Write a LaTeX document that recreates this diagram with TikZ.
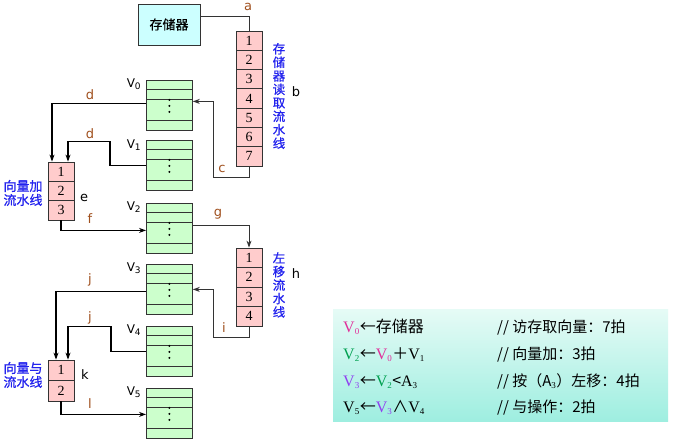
\documentclass[tikz,border=0pt]{standalone}
\usepackage{fontspec}
\setmainfont{Liberation Serif}
\newfontfamily\cjk{Noto Sans CJK SC}
\newfontfamily\cjkb[FakeBold=0.8]{Noto Sans CJK SC}
\newfontfamily\lbl{DejaVu Sans}
\usetikzlibrary{arrows.meta,calc}
\definecolor{memfill}{HTML}{CCFFFF}
\definecolor{pipefill}{HTML}{FFCCCC}
\definecolor{vfill}{HTML}{CCFFCC}
\definecolor{edge}{HTML}{333333}
\definecolor{brn}{HTML}{A0501E}
\definecolor{blu}{HTML}{2222EE}
\definecolor{vmag}{HTML}{E0309A}
\definecolor{vgrn}{HTML}{00A050}
\definecolor{vpur}{HTML}{9040F0}
\definecolor{boxtop}{HTML}{E6FBF6}
\definecolor{boxbot}{HTML}{9EEEE0}
\tikzset{
  cell/.style={draw=edge, fill=pipefill, line width=0.8pt, minimum width=26pt, inner sep=0pt, font=\fontsize{14}{14}\selectfont},
  vreg/.style={draw=edge, fill=vfill, line width=0.8pt, minimum width=46pt, minimum height=50pt, inner sep=0pt, anchor=north west},
  memstyle/.style={draw=edge, fill=memfill, line width=0.8pt, minimum width=62pt, minimum height=41pt, inner sep=0pt, font=\cjkb\fontsize{13}{13}\selectfont},
  conn/.style={draw=edge, line width=0.9pt},
  bconn/.style={draw=black, line width=1.1pt},
  arr/.style={-{Stealth[length=7pt,width=5pt]}},
  letter/.style={font=\lbl\fontsize{13}{13}\selectfont, text=brn, inner sep=0pt},
  bletter/.style={font=\lbl\fontsize{13}{13}\selectfont, text=black, inner sep=0pt},
  vlabel/.style={font=\lbl\fontsize{12}{12}\selectfont, inner sep=0pt},
  cnlabel/.style={font=\cjkb\fontsize{13}{14}\selectfont, text=blu, align=center, inner sep=0pt},
  vtext/.style={font=\cjkb\fontsize{12.5}{13.5}\selectfont, text=blu, align=center, text width=13pt, inner sep=0pt},
  row/.style={anchor=base west, inner sep=0pt, font=\fontsize{16}{16}\selectfont},
}
\newcommand{\vsub}[1]{\textsubscript{\fontsize{9}{9}\selectfont #1}}
\newcommand{\regdetail}[1]{%
  \draw[edge, line width=0.8pt] ([yshift=-9.5pt]#1.north west) -- ([yshift=-9.5pt]#1.north east);
  \draw[edge, line width=1pt] ([yshift=-19pt]#1.north west) -- ([yshift=-19pt]#1.north east);
  \draw[edge, line width=1pt] ([yshift=-40pt]#1.north west) -- ([yshift=-40pt]#1.north east);
  \fill[black] ([yshift=-0.5pt]#1.center) circle (1.1pt);
  \fill[black] ([yshift=-6.5pt]#1.center) circle (1.1pt);
  \fill[black] ([yshift=5.5pt]#1.center) circle (1.1pt);
}
\begin{document}
\begin{tikzpicture}[x=1pt,y=-1pt]
\useasboundingbox (0,0) rectangle (674,442);
\fill[white] (0,0) rectangle (674,442);

% memory
\node[memstyle] (mem) at (169,24.5) {存储器};

% pipeline b
\foreach \i in {1,...,7}
  \node[cell, minimum height=19.29pt] (b\i) at (249,{31+19.29*(\i-0.5)}) {\i};
\node[vtext] (btxt) at (279,96) {存\\储\\器\\读\\取\\流\\水\\线};
\node[bletter] (lb) at (296,92) {b};

% V registers
\node[vreg] (v0) at (146,80) {};
\node[vreg] (v1) at (146,140) {};
\node[vreg] (v2) at (146,203) {};
\node[vreg] (v3) at (146,264) {};
\node[vreg] (v4) at (146,326) {};
\node[vreg] (v5) at (146,388) {};
\foreach \r in {v0,v1,v2,v3,v4,v5} {\regdetail{\r}}
\node[vlabel] (lv0) at (134,84) {V\vsub{0}};
\node[vlabel] (lv1) at (134,145) {V\vsub{1}};
\node[vlabel] (lv2) at (134,207) {V\vsub{2}};
\node[vlabel] (lv3) at (134,268) {V\vsub{3}};
\node[vlabel] (lv4) at (134,330) {V\vsub{4}};
\node[vlabel] (lv5) at (134,392) {V\vsub{5}};

% pipeline e
\foreach \i in {1,...,3}
  \node[cell, minimum height=19.3pt] (e\i) at (61,{162+19.3*(\i-0.5)}) {\i};
\node[cnlabel] (etxt) at (23,193) {向量加\\流水线};
\node[bletter] (le) at (84,198) {e};

% pipeline h
\foreach \i in {1,...,4}
  \node[cell, minimum height=19.5pt] (h\i) at (249,{248+19.5*(\i-0.5)}) {\i};
\node[vtext] (htxt) at (279,285) {左\\移\\流\\水\\线};
\node[bletter] (lh) at (296,274) {h};

% pipeline k
\foreach \i in {1,...,2}
  \node[cell, minimum height=20.5pt] (k\i) at (61,{360+20.5*(\i-0.5)}) {\i};
\node[cnlabel] (ktxt) at (23,375) {向量与\\流水线};
\node[bletter] (lk) at (85,375) {k};

% connectors
\draw[conn] ([yshift=8.5pt]mem.east) -| (b1.north);
\node[letter] (la) at (248,7) {a};

\draw[conn, arr] (b7.south) -- ++(0,11) -- ++(-36,0) |- ([yshift=4pt]v0.east);
\node[letter] (lc) at (222,169) {c};

\draw[bconn, arr] ([yshift=2pt]v0.west) -| ([xshift=-9pt]e1.north);
\node[letter] (ld1) at (90,95) {d};
\draw[bconn, arr] (v1.west) -- ++(-36,0) -- ++(0,-24) -| ([xshift=7pt]e1.north);
\node[letter] (ld2) at (90,134) {d};

\draw[bconn, arr] (e3.south) |- ([yshift=-2pt]v2.west);
\node[letter] (lf) at (90,219) {f};

\draw[conn, arr] ([yshift=3pt]v2.east) -| (h1.north);
\node[letter] (lg) at (218,214) {g};

\draw[conn, arr] (h4.south) -- ++(0,11) -- ++(-36,0) |- (v3.east);
\node[letter] (li) at (224,328) {i};

\draw[bconn, arr] ([yshift=-2pt]v3.west) -| ([xshift=-5pt]k1.north);
\node[letter] (lj1) at (90,280) {j};
\draw[bconn, arr] (v4.west) -- ++(-35,0) -- ++(0,-25) -| ([xshift=7pt]k1.north);
\node[letter] (lj2) at (90,318) {j};

\draw[bconn, arr] (k2.south) |- ([yshift=-1pt]v5.west);
\node[letter] (ll) at (90,404) {l};

% info box
\shade[top color=boxtop, bottom color=boxbot] (333,309) rectangle (668,421);
\node[row] (r1a) at (343,332) {\textcolor{vmag}{V\vsub{0}}{\cjk ←存储器}};
\node[row] (r2a) at (343,359) {\textcolor{vgrn}{V\vsub{2}}{\cjk ←}\textcolor{vmag}{V\vsub{0}}{\cjk ＋}V\vsub{1}};
\node[row] (r3a) at (343,386) {\textcolor{vpur}{V\vsub{3}}{\cjk ←}\textcolor{vgrn}{V\vsub{2}}{\cjk <}A\vsub{3}};
\node[row] (r4a) at (343,412) {V\vsub{5}{\cjk ←}\textcolor{vpur}{V\vsub{3}}{\cjk ∧}V\vsub{4}};
\node[row, font=\cjk\fontsize{15}{15}\selectfont] (r1b) at (497,332) {// 访存取向量：7拍};
\node[row, font=\cjk\fontsize{15}{15}\selectfont] (r2b) at (497,359) {// 向量加：3拍};
\node[row, font=\cjk\fontsize{15}{15}\selectfont] (r3b) at (497,386) {// 按（A{\rmfamily\vsub{3}}）左移：4拍};
\node[row, font=\cjk\fontsize{15}{15}\selectfont] (r4b) at (497,412) {// 与操作：2拍};
\end{tikzpicture}
\end{document}
